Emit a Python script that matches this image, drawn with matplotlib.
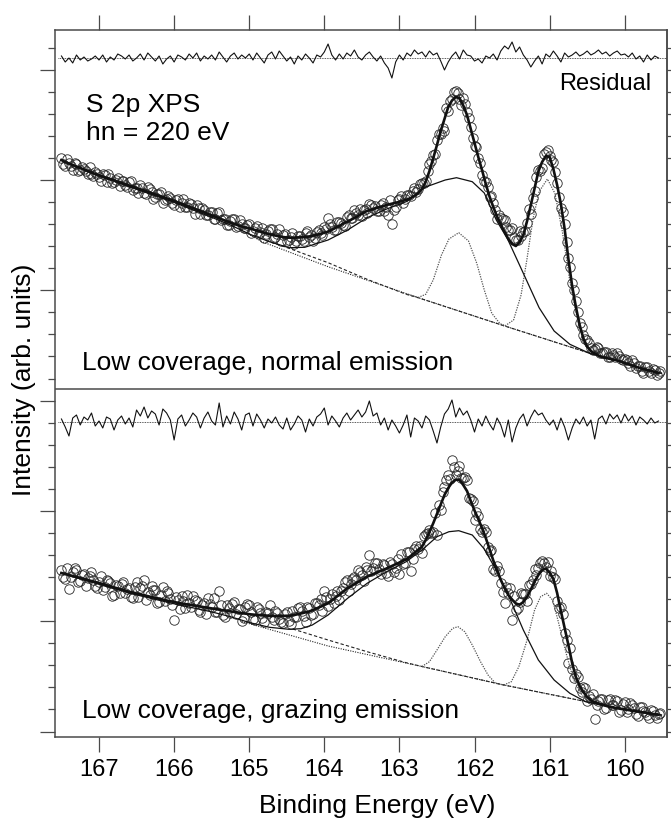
import numpy as np
import matplotlib
matplotlib.use("Agg")
import matplotlib.pyplot as plt

plt.rcParams['font.family'] = ['Liberation Sans', 'DejaVu Sans']

# ------------------------------------------------------------------ data
# measurement grid (binding energy, eV): two interleaved sweeps
energy = np.round(167.50 - 0.05 * np.arange(160), 3)
energy_mid = np.round(167.475 - 0.05 * np.arange(160), 3)

# ---- top panel: low coverage, normal emission
top_data = [
    227, 219, 222, 215, 221, 215, 216, 211, 211, 213,
    208, 211, 203, 207, 203, 207, 204, 200, 203, 195,
    197, 200, 192, 198, 193, 188, 191, 182, 186, 187,
    180, 186, 182, 178, 182, 177, 180, 171, 175, 170,
    173, 166, 173, 166, 160, 164, 166, 159, 161, 157,
    161, 154, 159, 153, 147, 154, 156, 148, 156, 150,
    144, 148, 141, 149, 146, 152, 148, 144, 153, 152,
    158, 167, 158, 155, 163, 160, 168, 167, 175, 170,
    169, 176, 181, 177, 174, 180, 174, 170, 161, 178,
    186, 182, 190, 189, 197, 196, 202, 204, 221, 230,
    245, 251, 254, 274, 286, 294, 286, 287, 273, 258,
    239, 227, 210, 203, 188, 182, 166, 167, 165, 155,
    157, 145, 154, 153, 162, 171, 194, 215, 217, 233,
    229, 223, 202, 177, 161, 127, 102, 84, 62, 50,
    45, 37, 36, 37, 32, 33, 28, 30, 32, 26,
    26, 22, 25, 17, 19, 12, 18, 12, 15, 12]
top_data_mid = [
    221, 226, 219, 222, 214, 218, 214, 218, 209, 211,
    204, 210, 211, 202, 205, 199, 204, 198, 204, 197,
    192, 197, 191, 196, 186, 191, 193, 185, 189, 182,
    185, 178, 186, 178, 181, 171, 177, 177, 170, 173,
    166, 172, 165, 166, 160, 166, 158, 165, 157, 160,
    152, 157, 151, 157, 151, 156, 147, 151, 144, 151,
    145, 152, 144, 149, 144, 154, 150, 147, 155, 150,
    156, 161, 155, 163, 162, 159, 170, 167, 172, 176,
    175, 172, 180, 179, 174, 182, 178, 185, 175, 185,
    189, 186, 190, 194, 193, 201, 202, 214, 224, 231,
    251, 257, 277, 284, 293, 292, 280, 281, 267, 247,
    238, 222, 204, 198, 189, 175, 170, 166, 158, 155,
    147, 145, 149, 154, 176, 187, 208, 214, 231, 235,
    225, 213, 188, 173, 143, 118, 95, 73, 58, 46,
    42, 35, 38, 32, 33, 28, 32, 28, 29, 25,
    25, 19, 22, 19, 14, 18, 14, 16, 10, 14]
top_fit = [
    225, 223, 221.5, 220, 218.5, 217, 215.5, 214, 212.5, 211,
    209.8, 208.5, 207.2, 206, 204.7, 203.4, 202.1, 200.8, 199.6, 198.3,
    197, 195.7, 194.5, 193.2, 191.9, 190.6, 189.4, 188, 186.8, 185.5,
    184, 182.6, 181.2, 179.8, 178.4, 177, 175.5, 174, 172.6, 171.2,
    169.7, 168.2, 166.7, 165.2, 163.7, 162.3, 161, 159.7, 158.5, 157.5,
    156.7, 155.6, 154.5, 153.4, 152.3, 151.2, 150.3, 149.4, 148.7, 148,
    147.5, 147.3, 147.3, 147.5, 147.8, 148.1, 148.5, 149.3, 150.2, 151.2,
    152.3, 153.3, 155.2, 157.1, 159.2, 161.2, 163.1, 165, 167, 169.2,
    171.3, 173.4, 174.8, 176, 177.2, 178.3, 179.4, 180.4, 181.3, 182.2,
    183.2, 184.3, 185.4, 187, 189, 191.7, 196, 203.3, 214, 226.7,
    240, 254, 266, 278, 284.5, 288, 287, 279.5, 270, 256,
    242, 228, 215, 201, 188.5, 178, 168.5, 160.5, 153, 146,
    141, 139, 143, 150, 164, 180, 197, 213.5, 223, 229,
    228, 216, 200, 181, 156, 126, 99, 78, 60, 46.5,
    38.5, 34, 31.5, 29.5, 28, 27, 26.2, 25.4, 24.6, 23.3,
    22, 20.8, 19.6, 18.3, 17, 15.9, 15, 14, 13, 12]
top_resid = [
    2, -4, 0, -5, 3, -2, 1, -3, -1, 2,
    -2, 3, -4, 1, -2, 4, 2, -1, 3, -3,
    0, 4, -2, 5, 1, -3, 2, -6, -1, 2,
    -4, 3, 1, -2, 4, 0, 5, -3, 2, -1,
    3, -2, 6, 1, -4, 2, 5, -1, 3, 0,
    4, -2, 5, 0, -5, 3, 6, -1, 7, 2,
    -3, 1, -6, 2, -2, 4, 0, -5, 3, 1,
    6, 14, 3, -2, 4, -1, 5, 2, 8, 1,
    -2, 3, 6, 1, -3, 2, -5, -10, -20, -4,
    3, -2, 5, 2, 8, 4, 6, 1, 7, 3,
    5, -3, -12, -4, 2, 6, -1, 8, 3, 2,
    -3, -1, -5, 2, 0, 4, -2, 7, 12, 9,
    16, 6, 11, 3, -2, -9, -3, 2, -6, 4,
    1, 7, 2, -4, 5, 1, 3, 6, 2, 4,
    7, 3, 5, 8, 4, 6, 2, 5, 7, 3,
    4, 1, 5, -1, 2, -4, 3, -2, 2, 0]
# broad component + background
top_broad_e = [167.51, 167.07, 166.55, 166.03, 165.51, 165.25, 164.99, 164.73,
               164.47, 164.26, 163.95, 163.69, 163.43, 163.17, 162.91, 162.65,
               162.39, 162.24, 162.03, 161.87, 161.71, 161.56, 161.35, 161.14,
               160.94, 160.73, 160.47, 160.31, 160.05, 159.79, 159.51]
top_broad_i = [225, 211, 197, 183.5, 168, 160, 150.7, 143.3,
               137.3, 137.7, 145, 155, 167.3, 176, 183.3, 198,
               205, 207.3, 203.3, 192, 165, 146, 111.7, 77.3,
               54, 40.7, 31.7, 28.3, 23.3, 16.7, 11.7]
# narrow doublet components + background
top_narrow_e = [162.91, 162.75, 162.65, 162.55, 162.44, 162.34, 162.21, 162.08,
                161.97, 161.87, 161.77, 161.66, 161.59, 161.48, 161.38, 161.30,
                161.22, 161.14, 161.03, 160.93, 160.83, 160.73, 160.62, 160.52,
                160.42]
top_narrow_i = [91.2, 87.5, 90.7, 105, 130, 146, 152.3, 144,
                121.7, 95, 71.7, 61.3, 59.3, 65, 90, 126.7,
                166.7, 193.3, 206, 191.7, 153.3, 103.3, 61.7, 40,
                31.3]
# linear background (dotted)
top_linbg_e = [165.10, 164.83, 163.95, 162.75, 161.61, 160.42, 160.05, 159.79, 159.51]
top_linbg_i = [155, 143.3, 118.3, 87.3, 59.3, 30.7, 23.3, 16.7, 11.7]
# step background (dashed)
top_stepbg_e = [164.78, 164.47, 163.95, 163.43, 162.91, 162.75, 161.61, 160.42, 159.51]
top_stepbg_i = [144.5, 136.7, 122.3, 105.7, 90.7, 87.3, 59.3, 30.7, 11.7]

# ---- bottom panel: low coverage, grazing emission
bot_data = [
    170, 161, 151, 168, 170, 159, 166, 162, 168, 154,
    158, 150, 160, 157, 145, 154, 156, 147, 152, 142,
    158, 152, 160, 148, 154, 150, 138, 153, 149, 141,
    120, 140, 144, 132, 137, 144, 139, 128, 137, 142,
    133, 128, 149, 125, 135, 127, 138, 131, 119, 133,
    135, 121, 133, 127, 118, 127, 123, 129, 121, 117,
    128, 116, 123, 132, 129, 118, 132, 126, 137, 141,
    149, 134, 146, 144, 140, 152, 160, 156, 163, 170,
    165, 173, 185, 172, 177, 166, 175, 164, 176, 172,
    166, 176, 188, 169, 191, 191, 187, 206, 210, 208,
    205, 230, 253, 265, 280, 265, 274, 262, 260, 241,
    220, 224, 208, 208, 189, 171, 174, 157, 137, 147,
    120, 130, 138, 146, 139, 156, 171, 172, 179, 173,
    164, 163, 139, 133, 107, 77, 71, 66, 52, 53,
    39, 41, 21, 39, 41, 32, 41, 35, 39, 30,
    38, 31, 35, 26, 33, 29, 25, 30, 25, 26]
bot_data_mid = [
    163, 172, 163, 172, 158, 165, 154, 164, 160, 152,
    164, 153, 159, 144, 155, 147, 158, 151, 143, 153,
    143, 154, 140, 145, 150, 137, 145, 139, 147, 135,
    143, 131, 139, 145, 133, 140, 130, 135, 126, 136,
    142, 128, 135, 123, 132, 136, 126, 131, 122, 136,
    128, 120, 131, 122, 128, 135, 120, 127, 118, 126,
    119, 129, 123, 133, 124, 133, 125, 137, 135, 129,
    143, 141, 137, 149, 149, 158, 149, 161, 160, 168,
    159, 170, 169, 177, 171, 176, 167, 178, 168, 181,
    186, 177, 188, 181, 194, 194, 204, 207, 207, 227,
    235, 248, 260, 261, 273, 269, 262, 263, 242, 239,
    228, 211, 211, 193, 190, 169, 169, 148, 153, 152,
    144, 132, 147, 146, 155, 160, 165, 177, 177, 178,
    169, 161, 132, 126, 100, 92, 62, 63, 48, 52,
    44, 46, 35, 41, 31, 40, 35, 40, 28, 36,
    28, 37, 32, 24, 33, 28, 22, 29, 22, 27]
bot_fit = [
    167, 166, 165, 164, 163, 162, 161, 160, 159, 158,
    157, 156, 154.8, 153.7, 152.6, 151.5, 150.5, 149.4, 148.3, 147.3,
    146.4, 145.5, 144.7, 143.9, 143, 142.1, 141.2, 140.4, 139.5, 138.7,
    137.9, 137.2, 136.5, 135.9, 135.3, 134.7, 134.1, 133.5, 132.9, 132.2,
    131.6, 130.9, 130.3, 129.7, 129.2, 128.7, 128.1, 127.5, 126.9, 126.3,
    125.8, 125.4, 125, 124.7, 124.5, 124.3, 124.1, 124, 124, 124.1,
    124.2, 124.4, 125, 125.8, 126.7, 127.6, 128.6, 130, 131.7, 133.3,
    135.1, 136.7, 139.5, 142.5, 145.4, 148.4, 151.3, 153.5, 155.6, 157.9,
    160.2, 162.5, 164.3, 165.8, 167.5, 169, 170.6, 172.3, 174, 175.7,
    177.5, 179.2, 181, 184, 187, 190.3, 193.3, 200, 208, 216.7,
    226, 235.5, 245, 252, 257.5, 260.2, 260.3, 255, 249, 239,
    229.5, 221, 212, 202, 191, 179.5, 170, 160, 152, 145,
    140.5, 136.5, 135.3, 138, 143.3, 150.5, 158.5, 165, 170, 171.5,
    167.5, 161, 147, 129, 112, 95, 77, 63, 54, 48,
    43, 39.5, 37.8, 36.5, 35.3, 34.2, 33.1, 32.4, 31.8, 31.1,
    30.5, 29.9, 29.3, 28.7, 28.1, 27.5, 26.9, 26.3, 25.7, 25.2]
bot_resid = [
    3, -5, -14, 4, 7, -3, 5, 2, 9, -4,
    1, -6, 5, 3, -8, 2, 6, -2, 4, -5,
    12, 6, 15, 4, 11, 8, -3, 13, 9, 2,
    -18, 3, 7, -4, 2, 9, 5, -6, 4, 10,
    1, -3, 19, -5, 6, -2, 10, 3, -8, 7,
    9, -4, 8, 2, -6, 3, -1, 5, -3, -7,
    4, -8, -2, 6, 2, -10, 3, -4, 5, 8,
    14, -3, 6, 1, -5, 4, 9, 2, 7, 12,
    5, 10, 21, 6, 9, -3, 4, -8, 2, -4,
    -11, -3, 7, -15, 4, 1, -6, 6, 2, -9,
    -21, -5, 8, 13, 22, 5, 14, 7, 11, 2,
    -10, 3, -4, 6, -2, -8, 4, -3, -15, 2,
    -20, -6, 3, 8, -4, 5, 12, 7, 9, 2,
    -3, 2, -8, 4, -5, -18, -6, 3, -2, 5,
    -4, 2, -17, 3, 6, -2, 8, 3, 7, -1,
    8, 1, 6, -3, 5, 2, -2, 4, -1, 1]
bot_broad_e = [167.51, 167.07, 166.55, 166.03, 165.51, 165.25, 164.99, 164.73,
               164.47, 164.31, 164.16, 163.95, 163.69, 163.43, 163.17, 162.91,
               162.70, 162.50, 162.34, 162.21, 162.03, 161.87, 161.72, 161.56,
               161.35, 161.15, 160.94, 160.73, 160.52, 160.21, 159.90, 159.51]
bot_broad_i = [167, 157.3, 146, 136.7, 128.3, 123.3, 117.3, 112.7,
               110.7, 111.3, 115, 125, 141.7, 156.7, 168.3, 178.3,
               190, 203.3, 208.3, 209.3, 205, 191, 171, 146.7,
               110, 80, 60, 46.7, 38.3, 33.3, 29.3, 25]
bot_narrow_e = [162.70, 162.60, 162.50, 162.39, 162.29, 162.22, 162.13, 162.03,
                161.92, 161.82, 161.72, 161.61, 161.51, 161.41, 161.30, 161.20,
                161.12, 161.04, 160.96, 160.89, 160.78, 160.68, 160.57, 160.47]
bot_narrow_i = [73.5, 78.3, 90, 103.3, 111.7, 113.3, 108.3, 95,
                78.3, 65, 56.7, 55, 58.3, 73.3, 100, 130,
                143.3, 146.7, 140, 120, 86.7, 60, 45, 37.7]
bot_linbg_e = [165.10, 163.95, 162.70, 161.61, 160.47, 160.21, 159.90, 159.51]
bot_linbg_i = [118.5, 94, 73.5, 55, 37.7, 33.3, 29.3, 25]
bot_stepbg_e = [164.42, 163.95, 163.43, 162.91, 162.70, 161.61, 160.47, 159.51]
bot_stepbg_i = [111, 100, 88.3, 77.3, 73.5, 55, 37.7, 25]

x_ticks = [160, 161, 162, 163, 164, 165, 166, 167]
x_ticklabels = ['160', '161', '162', '163', '164', '165', '166', '167']

texts = {
    'title1': 'S 2p XPS',
    'title2': 'hn = 220 eV',
    'resid': 'Residual',
    'top': 'Low coverage, normal emission',
    'bottom': 'Low coverage, grazing emission',
    'xlabel': 'Binding Energy (eV)',
    'ylabel': 'Intensity (arb. units)',
}

# ------------------------------------------------------------------ layout
W, H = 671, 819
fig = plt.figure(figsize=(W / 100, H / 100), dpi=100)
L, R, T, B = 55, 666.7, 30, 737.3
ax = fig.add_axes([L / W, 1 - B / H, (R - L) / W, (B - T) / H])
ax.set_xlim(167.586, 159.441)
ax.set_ylim(0, B - T)

TOP_OFF = 352.3      # vertical offset of the upper spectrum
BOT_OFF = -2.7       # vertical offset of the lower spectrum
TOP_ZERO = 679.3     # residual zero levels
BOT_ZERO = 315.3
DIVIDER = 348.3

spine_c = '#4a4a4a'
for s in ax.spines.values():
    s.set_color(spine_c)
    s.set_linewidth(1.1)

def off(vals, o):
    return np.asarray(vals, dtype=float) + o

circle_kw = dict(ls='none', marker='o', ms=6.8, mfc='none', mec='#262626', mew=0.6, zorder=2)

panels = [
    (top_data, top_data_mid, top_fit, top_resid, top_broad_e, top_broad_i,
     top_narrow_e, top_narrow_i, top_linbg_e, top_linbg_i, top_stepbg_e, top_stepbg_i,
     TOP_OFF, TOP_ZERO),
    (bot_data, bot_data_mid, bot_fit, bot_resid, bot_broad_e, bot_broad_i,
     bot_narrow_e, bot_narrow_i, bot_linbg_e, bot_linbg_i, bot_stepbg_e, bot_stepbg_i,
     BOT_OFF, BOT_ZERO)]

for (data, data_mid, fit, resid, b_e, b_i, n_e, n_i, lb_e, lb_i, sb_e, sb_i, o, z) in panels:
    ax.plot(energy, off(data, o), **circle_kw)
    ax.plot(energy_mid, off(data_mid, o), **circle_kw)
    ax.plot(lb_e, off(lb_i, o), color='#222', lw=0.8, ls=(0, (1, 1.2)), zorder=3)
    ax.plot(sb_e, off(sb_i, o), color='#222', lw=0.8, ls=(0, (3, 2)), zorder=3)
    ax.plot(n_e, off(n_i, o), color='#555', lw=0.9, ls=(0, (1, 1)), zorder=3)
    ax.plot(b_e, off(b_i, o), color='#111', lw=0.9, zorder=4)
    ax.plot(energy, off(fit, o), color='#111', lw=1.9, zorder=5)
    ax.axhline(z, xmin=0.005, xmax=1, color='#222', lw=0.6, ls=(0, (1, 1)), zorder=3)
    ax.plot(energy, off(resid, z), color='#111', lw=0.8, zorder=4)

ax.axhline(DIVIDER, color=spine_c, lw=1.1, zorder=6)

# ticks
ax.set_xticks(x_ticks)
ax.set_xticklabels(x_ticklabels)
ax.tick_params(axis='x', which='major', direction='out', length=10.8, width=0.9,
               color=spine_c, top=True, labeltop=False, labelsize=17, pad=4.5)
yt = 5.8 + 22.06 * np.arange(32)
ax.set_yticks(yt[::5])
ax.set_yticks(np.delete(yt, np.arange(0, 32, 5)), minor=True)
ax.tick_params(axis='y', which='major', direction='out', length=10.8, width=0.9,
               color=spine_c, labelleft=False)
ax.tick_params(axis='y', which='minor', direction='out', length=5, width=0.9,
               color=spine_c, labelleft=False)
sec = ax.secondary_yaxis('right')
sec.set_yticks(yt)
sec.tick_params(axis='y', direction='out', length=3.6, width=0.9, color=spine_c,
                labelright=False)
sec.spines['right'].set_color(spine_c)
sec.spines['right'].set_linewidth(1.1)

# texts
def ftext(x, y, s, **kw):
    fig.text(x / W, 1 - y / H, s, **kw)

ftext(86, 112, texts['title1'], fontsize=19, va='baseline')
ftext(86, 140, texts['title2'], fontsize=19, va='baseline')
ftext(559, 90, texts['resid'], fontsize=17, va='baseline')
ftext(82, 370, texts['top'], fontsize=19, va='baseline')
ftext(82, 718, texts['bottom'], fontsize=19, va='baseline')
ftext(377, 813, texts['xlabel'], fontsize=19, va='baseline', ha='center')
ftext(24, 380, texts['ylabel'], fontsize=19, va='center', ha='center', rotation=90)

fig.savefig('out.png', dpi=100)
